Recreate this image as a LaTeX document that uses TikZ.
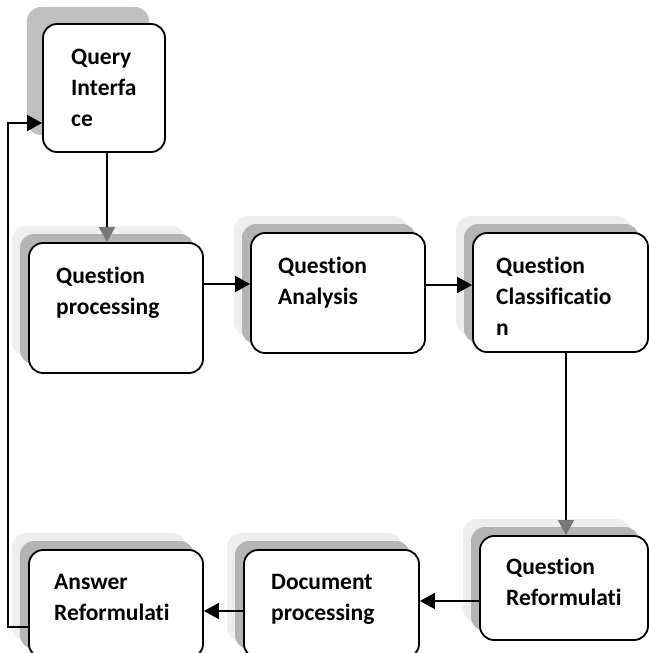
\documentclass[tikz,border=0pt]{standalone}
\usepackage{fontspec}
\setmainfont{Carlito}[Ligatures={NoCommon,NoContextual}]
\usetikzlibrary{arrows.meta,shadows}
\definecolor{ahgray}{RGB}{120,120,120}
\definecolor{shdark}{RGB}{180,180,180}
\definecolor{shlight}{RGB}{238,238,238}
\definecolor{shone}{RGB}{192,192,192}
\newcommand\btxt[1]{\parbox[t]{200bp}{\fontsize{23.5bp}{31bp}\selectfont\bfseries #1}}
\begin{document}
\begin{tikzpicture}[x=1bp,y=-1bp,
  box/.style={rectangle, draw=black, line width=1.8bp, rounded corners=14bp, fill=white, inner sep=0pt},
  shad/.style={general shadow={shadow xshift=-17bp, shadow yshift=17bp, fill=shlight},
               general shadow={shadow xshift=-9bp, shadow yshift=9bp, fill=shdark}},
  shadone/.style={general shadow={shadow xshift=-16bp, shadow yshift=17bp, fill=shone}},
  lbl/.style={anchor=base west, inner sep=0pt},
  arr/.style={line width=1.7bp, -{Triangle[length=15bp,width=16bp]}},
  garr/.style={line width=1.7bp, -{Triangle[length=15bp,width=16bp,color=ahgray]}},
  fb/.style={line width=1.3bp, -{Triangle[length=15bp,width=16bp]}}]
\useasboundingbox (0,0) rectangle (649,653);
\clip (0,0) rectangle (649,653);

% boxes
\node[box, shadone, minimum width=122bp, minimum height=128bp] (qi) at (104,88) {};
\node[box, shad, minimum width=174bp, minimum height=130bp] (qp) at (116,308) {};
\node[box, shad, minimum width=174bp, minimum height=120bp] (qa) at (338,293) {};
\node[box, shad, minimum width=175bp, minimum height=119bp] (qc) at (560.5,292.5) {};
\node[box, shad, minimum width=168bp, minimum height=104bp] (qr) at (564,588) {};
\node[box, shad, minimum width=175bp, minimum height=108bp] (dp) at (331.5,604) {};
\node[box, shad, minimum width=174bp, minimum height=108bp] (ar) at (116,604) {};

% texts
\node[lbl] (qit) at (71,65) {\btxt{Query\\Interfa\\ce}};
\node[lbl] (qpt) at (56,283) {\btxt{Question\\processing}};
\node[lbl] (qat) at (278,273) {\btxt{Question\\Analysis}};
\node[lbl] (qct) at (496,273) {\btxt{Question\\Classificatio\\n}};
\node[lbl] (qrt) at (506,574) {\btxt{Question\\Reformulati}};
\node[lbl] (dpt) at (271,589) {\btxt{Document\\processing}};
\node[lbl] (art) at (54,589) {\btxt{Answer\\Reformulati}};

% connectors
\coordinate (v1) at ([xshift=3bp]qi.south);
\draw[garr] (v1) -- (v1 |- qp.north);
\coordinate (h1) at ([yshift=24bp]qp.east);
\draw[arr] (h1) -- (h1 -| qa.west);
\coordinate (h2) at ([yshift=8bp]qa.east);
\draw[arr] (h2) -- (h2 -| qc.west);
\coordinate (v2) at ([xshift=5.5bp]qc.south);
\draw[garr] (v2) -- (v2 |- qr.north);
\coordinate (h3) at ([yshift=-13bp]qr.west);
\draw[arr] (h3) -- (h3 -| dp.east);
\coordinate (h4) at ([yshift=-7bp]dp.west);
\draw[arr] (h4) -- (h4 -| ar.east);
\coordinate (h5) at ([yshift=-23bp]ar.west);
\coordinate (h6) at ([yshift=-35bp]qi.west);
\draw[fb] (h5) -- ++(-20bp,0) |- (h6);
\end{tikzpicture}
\end{document}
